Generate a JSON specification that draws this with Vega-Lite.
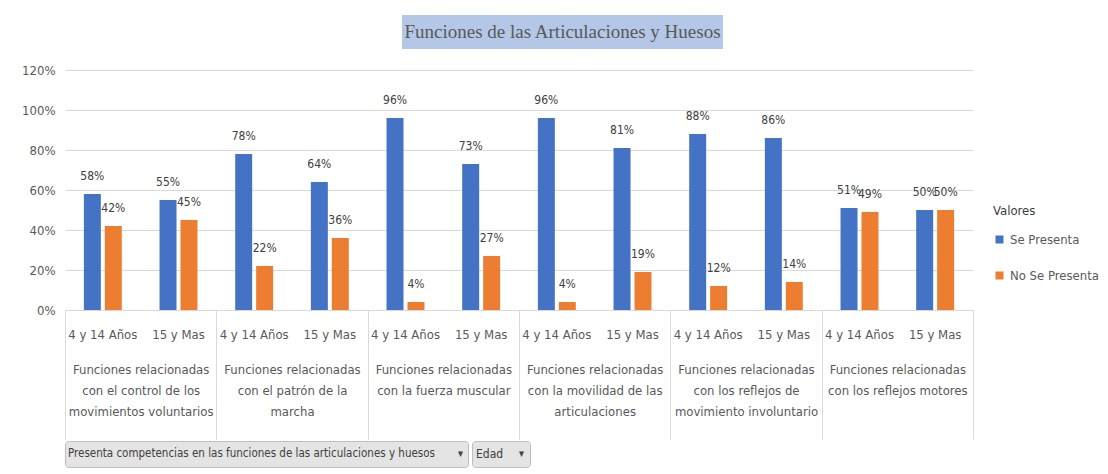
{
  "$schema": "https://vega.github.io/schema/vega-lite/v6.json",
  "padding": {"left": 21, "top": 15, "right": 0, "bottom": 0},
  "background": "white",
  "config": {
    "view": {"stroke": null},
    "font": "DejaVu Sans Condensed, Liberation Sans Narrow, sans-serif"
  },
  "datasets": {
    "valores": [
      {"grupo": "Funciones relacionadas|con el control de los|movimientos voluntarios", "clave": "1|4 y 14 Años", "serie": "Se Presenta", "valor": 0.58},
      {"grupo": "Funciones relacionadas|con el control de los|movimientos voluntarios", "clave": "1|4 y 14 Años", "serie": "No Se Presenta", "valor": 0.42},
      {"grupo": "Funciones relacionadas|con el control de los|movimientos voluntarios", "clave": "1|15 y Mas", "serie": "Se Presenta", "valor": 0.55},
      {"grupo": "Funciones relacionadas|con el control de los|movimientos voluntarios", "clave": "1|15 y Mas", "serie": "No Se Presenta", "valor": 0.45},
      {"grupo": "Funciones relacionadas|con el patrón de la|marcha", "clave": "2|4 y 14 Años", "serie": "Se Presenta", "valor": 0.78},
      {"grupo": "Funciones relacionadas|con el patrón de la|marcha", "clave": "2|4 y 14 Años", "serie": "No Se Presenta", "valor": 0.22},
      {"grupo": "Funciones relacionadas|con el patrón de la|marcha", "clave": "2|15 y Mas", "serie": "Se Presenta", "valor": 0.64},
      {"grupo": "Funciones relacionadas|con el patrón de la|marcha", "clave": "2|15 y Mas", "serie": "No Se Presenta", "valor": 0.36},
      {"grupo": "Funciones relacionadas|con la fuerza muscular", "clave": "3|4 y 14 Años", "serie": "Se Presenta", "valor": 0.96},
      {"grupo": "Funciones relacionadas|con la fuerza muscular", "clave": "3|4 y 14 Años", "serie": "No Se Presenta", "valor": 0.04},
      {"grupo": "Funciones relacionadas|con la fuerza muscular", "clave": "3|15 y Mas", "serie": "Se Presenta", "valor": 0.73},
      {"grupo": "Funciones relacionadas|con la fuerza muscular", "clave": "3|15 y Mas", "serie": "No Se Presenta", "valor": 0.27},
      {"grupo": "Funciones relacionadas|con la movilidad de las|articulaciones", "clave": "4|4 y 14 Años", "serie": "Se Presenta", "valor": 0.96},
      {"grupo": "Funciones relacionadas|con la movilidad de las|articulaciones", "clave": "4|4 y 14 Años", "serie": "No Se Presenta", "valor": 0.04},
      {"grupo": "Funciones relacionadas|con la movilidad de las|articulaciones", "clave": "4|15 y Mas", "serie": "Se Presenta", "valor": 0.81},
      {"grupo": "Funciones relacionadas|con la movilidad de las|articulaciones", "clave": "4|15 y Mas", "serie": "No Se Presenta", "valor": 0.19},
      {"grupo": "Funciones relacionadas|con los reflejos de|movimiento involuntario", "clave": "5|4 y 14 Años", "serie": "Se Presenta", "valor": 0.88},
      {"grupo": "Funciones relacionadas|con los reflejos de|movimiento involuntario", "clave": "5|4 y 14 Años", "serie": "No Se Presenta", "valor": 0.12},
      {"grupo": "Funciones relacionadas|con los reflejos de|movimiento involuntario", "clave": "5|15 y Mas", "serie": "Se Presenta", "valor": 0.86},
      {"grupo": "Funciones relacionadas|con los reflejos de|movimiento involuntario", "clave": "5|15 y Mas", "serie": "No Se Presenta", "valor": 0.14},
      {"grupo": "Funciones relacionadas|con los reflejos motores", "clave": "6|4 y 14 Años", "serie": "Se Presenta", "valor": 0.51},
      {"grupo": "Funciones relacionadas|con los reflejos motores", "clave": "6|4 y 14 Años", "serie": "No Se Presenta", "valor": 0.49},
      {"grupo": "Funciones relacionadas|con los reflejos motores", "clave": "6|15 y Mas", "serie": "Se Presenta", "valor": 0.50},
      {"grupo": "Funciones relacionadas|con los reflejos motores", "clave": "6|15 y Mas", "serie": "No Se Presenta", "valor": 0.50}
    ]
  },
  "spacing": 0,
  "vconcat": [
    {
      "spacing": 15,
      "vconcat": [
        {
          "spacing": 0,
          "hconcat": [
            {
              "width": 337,
              "height": 34,
              "data": {"values": [{"t": ""}]},
              "mark": {"type": "text"},
              "encoding": {"text": {"field": "t"}}
            },
            {
              "width": 321,
              "height": 34,
              "view": {"fill": "#B4C7E7", "stroke": null},
              "data": {"values": [{"titulo": "Funciones de las Articulaciones y Huesos"}]},
              "mark": {"type": "text", "font": "Liberation Serif", "fontSize": 19, "color": "#595959"},
              "encoding": {
                "text": {"field": "titulo"},
                "x": {"field": "titulo", "type": "nominal", "axis": null, "scale": {"type": "point"}},
                "y": {"field": "titulo", "type": "nominal", "axis": null, "scale": {"type": "point"}}
              }
            }
          ]
        },
        {
          "width": 908,
          "height": 240,
          "data": {"name": "valores"},
          "layer": [
            {
              "layer": [
                {
                  "mark": {"type": "bar"},
                  "encoding": {
                    "x": {
                      "field": "clave", "type": "nominal", "sort": null,
                      "scale": {"paddingInner": 0, "paddingOuter": 0},
                      "axis": {
                        "orient": "bottom", "title": null, "labelAngle": 0,
                        "labelExpr": "split(datum.label, '|')[1]",
                        "ticks": false, "domainColor": "#D9D9D9", "labelPadding": 18,
                        "labelFontSize": 13, "labelColor": "#595959", "grid": false
                      }
                    },
                    "xOffset": {
                      "field": "serie", "type": "nominal",
                      "sort": ["Se Presenta", "No Se Presenta"],
                      "scale": {"paddingInner": 0.19, "paddingOuter": 0.9}
                    },
                    "y": {
                      "field": "valor", "type": "quantitative",
                      "scale": {"domain": [0, 1.2]},
                      "axis": {
                        "title": null, "format": ".0%",
                        "values": [0, 0.2, 0.4, 0.6, 0.8, 1.0, 1.2],
                        "domain": false, "ticks": false, "gridColor": "#D9D9D9",
                        "labelFontSize": 13, "labelColor": "#595959", "labelPadding": 10
                      }
                    },
                    "color": {
                      "field": "serie", "type": "nominal",
                      "scale": {"domain": ["Se Presenta", "No Se Presenta"], "range": ["#4472C4", "#ED7D31"]},
                      "legend": {
                        "title": "Valores", "orient": "none", "legendX": 928, "legendY": 190,
                        "symbolType": "square", "symbolSize": 64, "symbolStrokeWidth": 0,
                        "labelFontSize": 13, "titleFontSize": 13, "titleFontWeight": "normal",
                        "titleColor": "#404040", "labelColor": "#595959",
                        "rowPadding": 22, "titlePadding": 15
                      }
                    }
                  }
                },
                {
                  "mark": {"type": "text", "baseline": "middle", "dy": -18, "fontSize": 12, "color": "#404040"},
                  "encoding": {
                    "x": {"field": "clave", "type": "nominal", "sort": null},
                    "xOffset": {"field": "serie", "type": "nominal", "sort": ["Se Presenta", "No Se Presenta"]},
                    "y": {
                      "field": "valor", "type": "quantitative",
                      "scale": {"domain": [0, 1.2]},
                      "axis": {
                        "title": null, "format": ".0%",
                        "values": [0, 0.2, 0.4, 0.6, 0.8, 1.0, 1.2],
                        "domain": false, "ticks": false, "gridColor": "#D9D9D9",
                        "labelFontSize": 13, "labelColor": "#595959", "labelPadding": 10
                      }
                    },
                    "text": {"field": "valor", "type": "quantitative", "format": ".0%"}
                  }
                }
              ]
            },
            {
              "mark": {"type": "rule", "opacity": 0},
              "encoding": {
                "x": {
                  "field": "grupo", "type": "nominal", "sort": null,
                  "scale": {"paddingInner": 0, "paddingOuter": 0},
                  "axis": {
                    "orient": "bottom", "title": null, "labelAngle": 0,
                    "domain": false, "ticks": true, "tickBand": "extent",
                    "tickSize": 129, "tickColor": "#D9D9D9", "labelPadding": -76,
                    "labelExpr": "split(datum.label, '|')", "labelLineHeight": 21,
                    "labelFontSize": 13, "labelColor": "#595959", "labelLimit": 200,
                    "labelOverlap": false, "grid": false
                  }
                }
              }
            }
          ],
          "resolve": {"scale": {"x": "independent"}}
        }
      ]
    },
    {
      "spacing": 2,
      "hconcat": [
        {
          "width": 403,
          "height": 26,
          "view": {"fill": "#E4E4E4", "stroke": "#BFBFBF", "cornerRadius": 3},
          "data": {"values": [{"campo": "Presenta competencias en las funciones de las articulaciones y huesos", "flecha": "▾"}]},
          "layer": [
            {
              "mark": {"type": "text", "align": "left", "dx": 3, "fontSize": 11.5, "color": "#404040"},
              "encoding": {
                "text": {"field": "campo"},
                "x": {"datum": 0, "type": "quantitative", "scale": {"domain": [0, 1]}, "axis": null}
              }
            },
            {
              "mark": {"type": "text", "align": "right", "dx": -5, "fontSize": 11, "color": "#404040"},
              "encoding": {
                "text": {"field": "flecha"},
                "x": {"datum": 1, "type": "quantitative", "axis": null}
              }
            }
          ]
        },
        {
          "width": 58,
          "height": 26,
          "view": {"fill": "#E4E4E4", "stroke": "#BFBFBF", "cornerRadius": 3},
          "data": {"values": [{"campo": "Edad", "flecha": "▾"}]},
          "layer": [
            {
              "mark": {"type": "text", "align": "left", "dx": 4, "fontSize": 12, "color": "#404040"},
              "encoding": {
                "text": {"field": "campo"},
                "x": {"datum": 0, "type": "quantitative", "scale": {"domain": [0, 1]}, "axis": null}
              }
            },
            {
              "mark": {"type": "text", "align": "right", "dx": -6, "fontSize": 11, "color": "#404040"},
              "encoding": {
                "text": {"field": "flecha"},
                "x": {"datum": 1, "type": "quantitative", "axis": null}
              }
            }
          ]
        }
      ]
    }
  ]
}
